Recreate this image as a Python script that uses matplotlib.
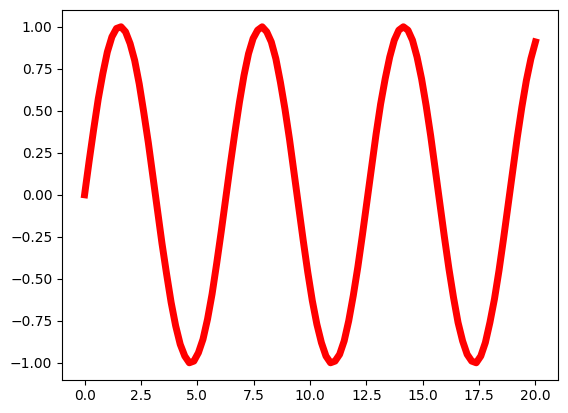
import numpy as np
import matplotlib
matplotlib.use("Agg")
import matplotlib.pyplot as plt

# значення сигналу (100 рівномірних відліків на [0, 20])
x_start, x_end = 0, 20
y_values = [
    0.00, 0.20, 0.39, 0.57, 0.72, 0.85, 0.94, 0.99, 1.00, 0.97,
    0.90, 0.80, 0.66, 0.49, 0.31, 0.11, -0.09, -0.29, -0.47, -0.64,
    -0.78, -0.89, -0.96, -1.00, -0.99, -0.94, -0.86, -0.74, -0.59, -0.41,
    -0.22, -0.02, 0.18, 0.37, 0.55, 0.71, 0.84, 0.93, 0.98, 1.00,
    0.97, 0.91, 0.81, 0.67, 0.51, 0.33, 0.13, -0.07, -0.27, -0.46,
    -0.63, -0.77, -0.88, -0.96, -1.00, -0.99, -0.95, -0.87, -0.75, -0.60,
    -0.43, -0.24, -0.04, 0.16, 0.36, 0.54, 0.69, 0.82, 0.92, 0.98,
    1.00, 0.98, 0.92, 0.82, 0.69, 0.53, 0.35, 0.15, -0.05, -0.25,
    -0.44, -0.61, -0.76, -0.87, -0.95, -0.99, -1.00, -0.96, -0.88, -0.76,
    -0.62, -0.45, -0.26, -0.06, 0.14, 0.34, 0.52, 0.68, 0.81, 0.91,
]

t_values = np.linspace(x_start, x_end, len(y_values))

fig = plt.figure(figsize=(5.68, 4.13), dpi=100)
fig.subplots_adjust(left=0.1092, right=0.9824, top=0.9758, bottom=0.0809)
ax = fig.add_subplot(111)
ax.plot(t_values, y_values, color="red", linewidth=5)

fig.savefig("out.png", dpi=100)
